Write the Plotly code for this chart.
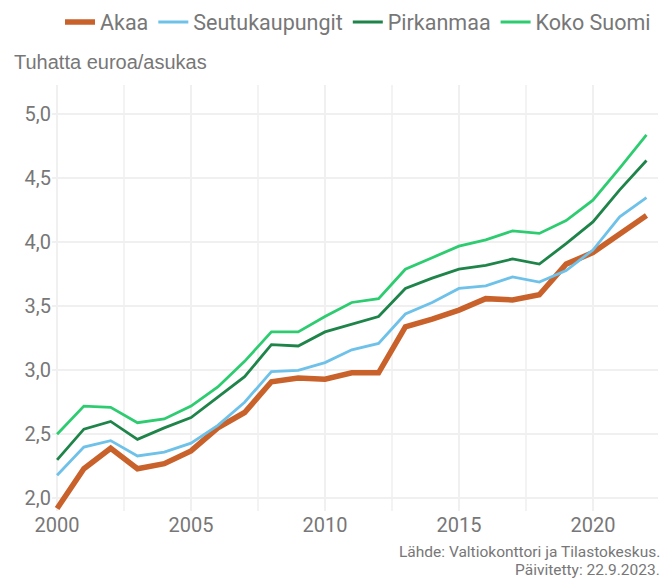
import plotly.graph_objects as go

years = list(range(2000, 2023))
akaa = [1.92, 2.23, 2.39, 2.23, 2.27, 2.37, 2.55, 2.67, 2.91, 2.94, 2.93, 2.98, 2.98,
        3.34, 3.40, 3.47, 3.56, 3.55, 3.59, 3.83, 3.92, 4.07, 4.21]
seutukaupungit = [2.18, 2.40, 2.45, 2.33, 2.36, 2.43, 2.57, 2.75, 2.99, 3.00, 3.06, 3.16, 3.21,
                  3.44, 3.53, 3.64, 3.66, 3.73, 3.69, 3.78, 3.94, 4.20, 4.35]
pirkanmaa = [2.30, 2.54, 2.60, 2.46, 2.55, 2.63, 2.79, 2.95, 3.20, 3.19, 3.30, 3.36, 3.42,
             3.64, 3.72, 3.79, 3.82, 3.87, 3.83, 3.99, 4.16, 4.41, 4.64]
koko_suomi = [2.50, 2.72, 2.71, 2.59, 2.62, 2.72, 2.87, 3.07, 3.30, 3.30, 3.42, 3.53, 3.56,
              3.79, 3.88, 3.97, 4.02, 4.09, 4.07, 4.17, 4.33, 4.58, 4.84]

x_ticks = [2000, 2005, 2010, 2015, 2020]
y_ticks = [2.0, 2.5, 3.0, 3.5, 4.0, 4.5, 5.0]

series = [
    ("Akaa", akaa, "#C9612B", 5.5),
    ("Seutukaupungit", seutukaupungit, "#6EC1E8", 2.8),
    ("Pirkanmaa", pirkanmaa, "#1E8449", 2.8),
    ("Koko Suomi", koko_suomi, "#2ECC71", 2.8),
]

fig = go.Figure()
for name, vals, color, w in series:
    fig.add_trace(go.Scatter(x=years, y=vals, name=name, mode="lines",
                             line=dict(color=color, width=w)))

font_main = "Roboto, Liberation Sans, sans-serif"
gray = "#777777"

fig.update_layout(
    width=670, height=581,
    margin=dict(l=52, r=12, t=85, b=70, autoexpand=False),
    plot_bgcolor="white", paper_bgcolor="white",
    separators=", ",
    font=dict(family=font_main, color=gray),
    showlegend=True,
    legend=dict(orientation="h", x=60 / 670, xanchor="left", xref="container",
                y=1 - 22 / 581, yanchor="middle", yref="container",
                font=dict(size=21.5, color=gray), traceorder="normal"),
    xaxis=dict(range=[1999.81, 2022.43], tickvals=x_ticks, automargin=False,
               tickfont=dict(size=20, color=gray), showgrid=True, gridcolor="#f0f0f0",
               gridwidth=1.5, zeroline=False, showline=False, ticks="",
               minor=dict(dtick=2.5, tick0=2000, showgrid=True, gridcolor="#f3f3f3", gridwidth=1.5)),
    yaxis=dict(range=[1.9, 5.23], tickvals=y_ticks, automargin=False,
               tickformat=".1f", tickfont=dict(size=20, color=gray), showgrid=True,
               gridcolor="#f0f0f0", gridwidth=1.5, zeroline=False, showline=False, ticks=""),
    annotations=[
        dict(text="Tuhatta euroa/asukas", xref="paper", yref="paper",
             x=-40 / 606, y=449 / 426, xanchor="left", yanchor="middle", showarrow=False,
             font=dict(family="Liberation Sans, Arial, sans-serif", size=20, color=gray)),
        dict(text="Lähde: Valtiokonttori ja Tilastokeskus.",
             xref="paper", yref="paper", x=1.006, y=-40.5 / 426,
             xanchor="right", yanchor="middle", showarrow=False,
             font=dict(size=15.5, color=gray)),
        dict(text="Päivitetty: 22.9.2023.",
             xref="paper", yref="paper", x=1.006, y=-58.5 / 426,
             xanchor="right", yanchor="middle", showarrow=False,
             font=dict(size=15.5, color=gray)),
    ],
)

fig.write_html("out.html", config={"displayModeBar": False},
               post_script="document.body.style.margin='0';")
